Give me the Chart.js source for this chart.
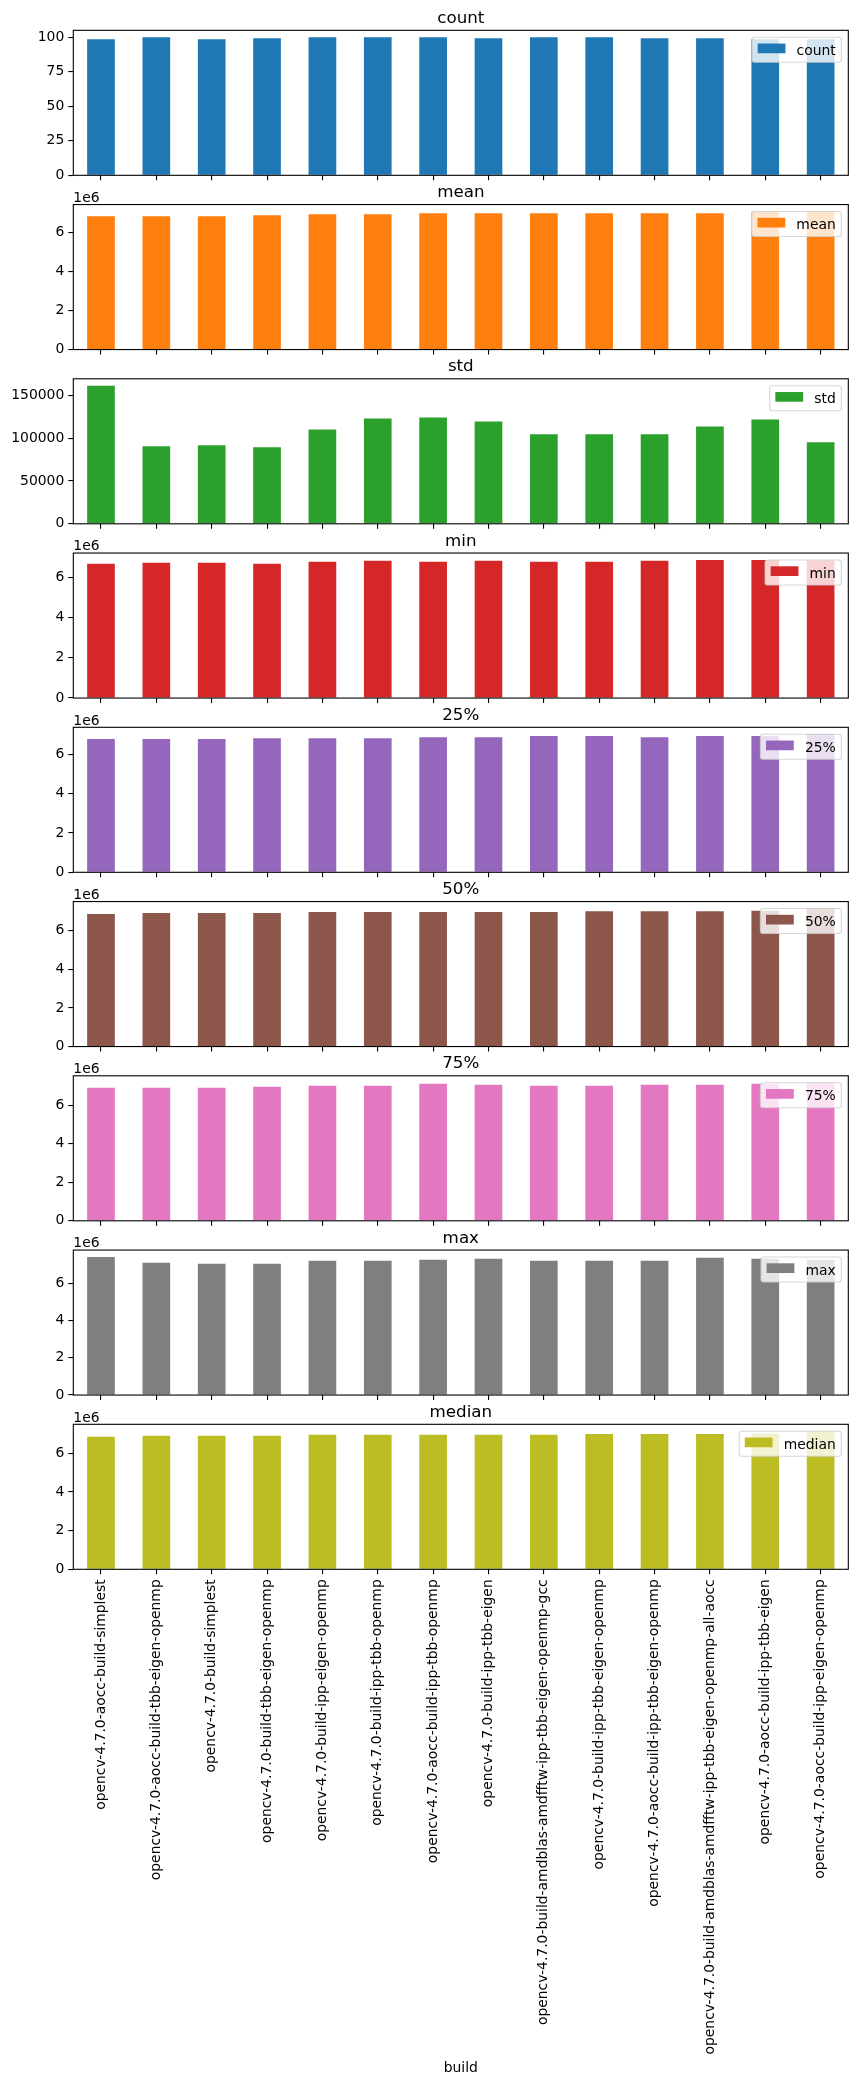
<!DOCTYPE html>
<html><head><meta charset="utf-8">
<script src="https://cdn.jsdelivr.net/npm/chart.js@4/dist/chart.umd.min.js"></script>
<style>
html,body{margin:0;padding:0;background:#fff;}
#wrap{position:relative;width:857px;height:2084px;overflow:hidden;background:#fff;}
canvas{position:absolute;left:0;}
</style></head><body><div id="wrap"></div>
<script>
const builds = [
  'opencv-4.7.0-aocc-build-simplest',
  'opencv-4.7.0-aocc-build-tbb-eigen-openmp',
  'opencv-4.7.0-build-simplest',
  'opencv-4.7.0-build-tbb-eigen-openmp',
  'opencv-4.7.0-build-ipp-eigen-openmp',
  'opencv-4.7.0-build-ipp-tbb-openmp',
  'opencv-4.7.0-aocc-build-ipp-tbb-openmp',
  'opencv-4.7.0-build-ipp-tbb-eigen',
  'opencv-4.7.0-build-amdblas-amdfftw-ipp-tbb-eigen-openmp-gcc',
  'opencv-4.7.0-build-ipp-tbb-eigen-openmp',
  'opencv-4.7.0-aocc-build-ipp-tbb-eigen-openmp',
  'opencv-4.7.0-build-amdblas-amdfftw-ipp-tbb-eigen-openmp-all-aocc',
  'opencv-4.7.0-aocc-build-ipp-tbb-eigen',
  'opencv-4.7.0-aocc-build-ipp-eigen-openmp'
];
const countValues  = [98.6, 100, 98.6, 99.3, 100, 100, 100, 99.3, 100, 100, 99.3, 99.3, 98.6, 98.6];
const meanValues   = [6.857e6, 6.857e6, 6.857e6, 6.909e6, 6.96e6, 6.96e6, 7.01e6, 7.01e6, 7.01e6, 7.01e6, 7.01e6, 7.01e6, 7.08e6, 7.10e6];
const stdValues    = [161200, 90500, 91600, 89300, 110200, 122900, 124100, 119400, 104400, 104400, 104400, 113600, 121800, 95100];
const minValues    = [6.66e6, 6.71e6, 6.71e6, 6.66e6, 6.76e6, 6.81e6, 6.76e6, 6.81e6, 6.76e6, 6.76e6, 6.81e6, 6.85e6, 6.85e6, 6.83e6];
const q25Values    = [6.78e6, 6.78e6, 6.78e6, 6.83e6, 6.83e6, 6.83e6, 6.88e6, 6.88e6, 6.94e6, 6.94e6, 6.88e6, 6.94e6, 6.94e6, 7.03e6];
const q50Values    = [6.86e6, 6.91e6, 6.91e6, 6.91e6, 6.96e6, 6.96e6, 6.96e6, 6.96e6, 6.96e6, 7.01e6, 7.01e6, 7.01e6, 7.03e6, 7.15e6];
const q75Values    = [6.90e6, 6.90e6, 6.90e6, 6.95e6, 7.00e6, 7.00e6, 7.11e6, 7.06e6, 7.00e6, 7.00e6, 7.06e6, 7.06e6, 7.11e6, 7.16e6];
const maxValues    = [7.40e6, 7.09e6, 7.04e6, 7.04e6, 7.20e6, 7.20e6, 7.25e6, 7.30e6, 7.20e6, 7.20e6, 7.20e6, 7.36e6, 7.30e6, 7.25e6];
const medianValues = [6.86e6, 6.91e6, 6.91e6, 6.91e6, 6.96e6, 6.96e6, 6.96e6, 6.96e6, 6.96e6, 7.01e6, 7.01e6, 7.01e6, 7.03e6, 7.15e6];

const countTicks = [0, 25, 50, 75, 100];
const stdTicks = [0, 50000, 100000, 150000];
const e6Ticks = [0, 2e6, 4e6, 6e6];
const xAxisLabel = 'build';

const panels = [
  {name:'count',  values:countValues,  color:'#1f77b4', ticks:countTicks, e6:false},
  {name:'mean',   values:meanValues,   color:'#ff7f0e', ticks:e6Ticks,    e6:true},
  {name:'std',    values:stdValues,    color:'#2ca02c', ticks:stdTicks,   e6:false},
  {name:'min',    values:minValues,    color:'#d62728', ticks:e6Ticks,    e6:true},
  {name:'25%',    values:q25Values,    color:'#9467bd', ticks:e6Ticks,    e6:true},
  {name:'50%',    values:q50Values,    color:'#8c564b', ticks:e6Ticks,    e6:true},
  {name:'75%',    values:q75Values,    color:'#e377c2', ticks:e6Ticks,    e6:true},
  {name:'max',    values:maxValues,    color:'#7f7f7f', ticks:e6Ticks,    e6:true},
  {name:'median', values:medianValues, color:'#bcbd22', ticks:e6Ticks,    e6:true}
];

const FONT = '"DejaVu Sans", sans-serif';
const W = 857, AX_L = 73.3, AX_R = 848.3, AX_H = 145;
const wrap = document.getElementById('wrap');

const decor = {
  id: 'mplDecor',
  afterDraw(chart, args, o) {
    const ctx = chart.ctx, a = chart.chartArea;
    ctx.save();
    // legend
    ctx.font = `13.9px ${FONT}`;
    const tw = ctx.measureText(o.name).width;
    const pad = 5.6, hl = 27.8, gap = 11.1;
    const bw = pad + hl + gap + tw + pad, bh = 25;
    const bx = a.right - 6.95 - bw, by = a.top + 6.95;
    const r = 2.8;
    ctx.beginPath();
    ctx.moveTo(bx + r, by);
    ctx.lineTo(bx + bw - r, by);
    ctx.quadraticCurveTo(bx + bw, by, bx + bw, by + r);
    ctx.lineTo(bx + bw, by + bh - r);
    ctx.quadraticCurveTo(bx + bw, by + bh, bx + bw - r, by + bh);
    ctx.lineTo(bx + r, by + bh);
    ctx.quadraticCurveTo(bx, by + bh, bx, by + bh - r);
    ctx.lineTo(bx, by + r);
    ctx.quadraticCurveTo(bx, by, bx + r, by);
    ctx.closePath();
    ctx.fillStyle = 'rgba(255,255,255,0.8)';
    ctx.fill();
    ctx.strokeStyle = 'rgba(204,204,204,0.8)';
    ctx.lineWidth = 1.1;
    ctx.stroke();
    ctx.fillStyle = o.color;
    ctx.fillRect(bx + pad, by + 6.3, hl, 9.7);
    ctx.fillStyle = '#000';
    ctx.textAlign = 'left';
    ctx.textBaseline = 'alphabetic';
    ctx.fillText(o.name, bx + pad + hl + gap, by + 17.5);
    // frame
    ctx.strokeStyle = '#000';
    ctx.lineWidth = 1.1;
    ctx.strokeRect(a.left, a.top, a.right - a.left, a.bottom - a.top);
    // title
    ctx.font = `16.7px ${FONT}`;
    ctx.textAlign = 'center';
    ctx.fillText(o.name, (a.left + a.right) / 2, a.top - 7.4);
    // offset text
    if (o.e6) {
      ctx.font = `13.9px ${FONT}`;
      ctx.textAlign = 'left';
      ctx.fillText('1e6', a.left, a.top - 2.8);
    }
    if (o.xlabel) {
      ctx.font = `13.9px ${FONT}`;
      ctx.textAlign = 'center';
      ctx.fillText(o.xlabel, (a.left + a.right) / 2, o.xlabelY);
    }
    ctx.restore();
  }
};

panels.forEach((p, i) => {
  const last = i === panels.length - 1;
  const pTop = 30.3 + 174.25 * i;
  const cTop = Math.floor(pTop) - 32;
  const padTop = pTop - cTop;
  const cH = last ? 2084 - cTop : Math.ceil(padTop + AX_H + 16);
  const xH = cH - padTop - AX_H;
  const cv = document.createElement('canvas');
  cv.width = W; cv.height = cH;
  cv.style.top = cTop + 'px';
  cv.style.width = W + 'px'; cv.style.height = cH + 'px';
  wrap.appendChild(cv);
  const ymax = Math.max(...p.values) * 1.05;
  new Chart(cv, {
    type: 'bar',
    data: {
      labels: builds,
      datasets: [{label: p.name, data: p.values, backgroundColor: p.color, borderWidth: 0,
                  barPercentage: 0.5, categoryPercentage: 1}]
    },
    options: {
      responsive: false, animation: false, devicePixelRatio: 1,
      layout: {padding: {top: padTop, left: 0, right: W - AX_R, bottom: 0}},
      plugins: {
        legend: {display: false}, tooltip: {enabled: false},
        mplDecor: {name: p.name, color: p.color, e6: p.e6,
                   xlabel: last ? xAxisLabel : null, xlabelY: 2071.5 - cTop}
      },
      scales: {
        x: {
          grid: {display: true, drawOnChartArea: false, drawTicks: true, tickLength: 5,
                 offset: false, color: '#000', lineWidth: 1.1},
          border: {display: false},
          ticks: {display: true, autoSkip: false, minRotation: 90, maxRotation: 90, padding: 5,
                  color: '#000', font: {family: FONT, size: 13.9},
                  callback: last ? ((v, idx) => builds[idx]) : (() => '')},
          afterFit: s => { s.height = xH; }
        },
        y: {
          min: 0, max: ymax,
          grid: {drawOnChartArea: false, drawTicks: true, tickLength: 5, color: '#000', lineWidth: 1.1},
          border: {display: false},
          ticks: {padding: 4, color: '#000', font: {family: FONT, size: 13.9},
                  callback: v => p.e6 ? String(Math.round(v / 1e6)) : String(v)},
          afterBuildTicks: s => { s.ticks = p.ticks.map(v => ({value: v})); },
          afterFit: s => { s.width = AX_L; }
        }
      }
    },
    plugins: [decor]
  });
});
</script>
</body></html>
